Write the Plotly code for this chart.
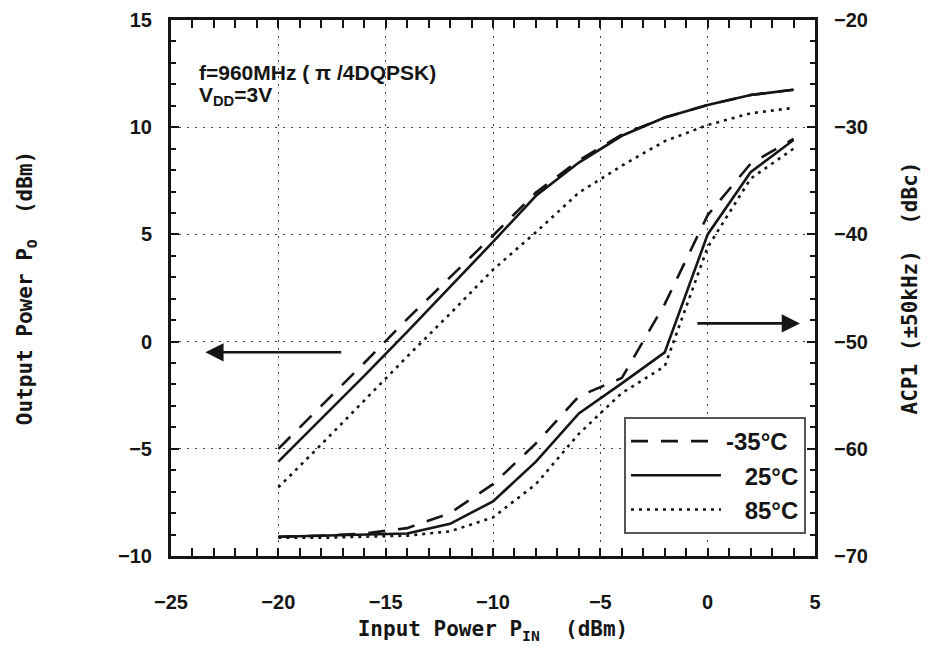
import plotly.graph_objects as go

# ---------------- data ----------------
PIN = [-20, -18, -16, -14, -12, -10, -8, -6, -4, -2, 0, 2, 4]

POUT_M35 = [-5.0, -3.0, -1.0, 1.05, 3.0, 4.95, 6.95, 8.45, 9.65, 10.45, 11.04, 11.5, 11.75]
POUT_25 = [-5.6, -3.6, -1.6, 0.45, 2.55, 4.65, 6.8, 8.35, 9.6, 10.45, 11.04, 11.5, 11.75]
POUT_85 = [-6.8, -4.8, -2.75, -0.7, 1.3, 3.35, 5.1, 6.95, 8.2, 9.35, 10.1, 10.65, 10.9]

ACPR_M35 = [-68.2, -68.1, -67.9, -67.4, -66.0, -63.3, -59.5, -55.1, -53.4, -46.5, -38.2, -33.4, -31.1]
ACPR_25 = [-68.2, -68.1, -68.0, -67.9, -67.0, -64.9, -61.2, -56.7, -53.9, -51.0, -40.0, -34.2, -31.2]
ACPR_85 = [-68.3, -68.3, -68.2, -68.1, -67.7, -66.4, -63.3, -58.6, -54.8, -52.3, -41.2, -34.8, -32.0]

LABELS = ["-35°C", "\u2002 25°C", "\u2002 85°C"]

X_TICKS = [-25, -20, -15, -10, -5, 0, 5]
Y1_TICKS = [-10, -5, 0, 5, 10, 15]
Y2_TICKS = [-70, -60, -50, -40, -30, -20]

# ---------------- styles ----------------
INK = "#151515"
DASHES = ["17px,13px", "solid", "3px,5px"]
LINE_W = 2.6
TICK_FONT = dict(family="Liberation Sans, Arial, sans-serif", size=20, color=INK, weight="bold")
TITLE_FONT = dict(family="DejaVu Sans Mono, monospace", size=21, color=INK, weight="bold")
NOTE_FONT = dict(family="Liberation Sans Narrow, Liberation Sans, sans-serif", size=21, color=INK, weight="bold")
LEG_FONT = dict(family="Liberation Sans Narrow, Liberation Sans, sans-serif", size=24, color=INK, weight="bold")

fig = go.Figure()

pout = [POUT_M35, POUT_25, POUT_85]
acpr = [ACPR_M35, ACPR_25, ACPR_85]
for i, lab in enumerate(LABELS):
    fig.add_trace(go.Scatter(
        x=PIN, y=pout[i], mode="lines", name=lab, legendgroup=lab,
        line=dict(color=INK, width=LINE_W, dash=DASHES[i]),
        yaxis="y"))
for i, lab in enumerate(LABELS):
    fig.add_trace(go.Scatter(
        x=PIN, y=acpr[i], mode="lines", name=lab, legendgroup=lab, showlegend=False,
        line=dict(color=INK, width=LINE_W, dash=DASHES[i]),
        yaxis="y2"))

# arrows pointing to the corresponding axis
fig.add_annotation(x=-23.4, y=-0.5, ax=-17.0, ay=-0.5, xref="x", yref="y", axref="x", ayref="y",
                   showarrow=True, arrowhead=2, arrowsize=1.4, arrowwidth=2.6, arrowcolor=INK, text="")
fig.add_annotation(x=4.3, y=-48.3, ax=-0.55, ay=-48.3, xref="x", yref="y2", axref="x", ayref="y2",
                   showarrow=True, arrowhead=2, arrowsize=1.4, arrowwidth=2.6, arrowcolor=INK, text="")

# condition notes
fig.add_annotation(x=-23.8, y=12.56, xref="x", yref="y", xanchor="left", yanchor="middle",
                   showarrow=False, text="f=960MHz ( π /4DQPSK)", font=NOTE_FONT)
fig.add_annotation(x=-23.8, y=11.45, xref="x", yref="y", xanchor="left", yanchor="middle",
                   showarrow=False, text="V<sub>DD</sub>=3V", font=NOTE_FONT)

grid = dict(showgrid=True, gridcolor="#444", gridwidth=1.4, griddash="2px,6px", zeroline=False)

fig.update_layout(
    width=929, height=654, autosize=False,
    margin=dict(l=163, r=122, t=12, b=106),
    paper_bgcolor="white", plot_bgcolor="white",
    showlegend=True,
    legend=dict(x=0.986, y=0.041, xanchor="right", yanchor="bottom",
                bgcolor="white", bordercolor="#555", borderwidth=2,
                font=LEG_FONT, itemwidth=90, tracegroupgap=2,
                traceorder="normal"),
    xaxis=dict(range=[-25, 5], tickvals=X_TICKS, ticks="inside", ticklen=8, tickwidth=2,
               tickcolor=INK, showline=True, linecolor=INK, linewidth=3, mirror="allticks",
               tickfont=TICK_FONT, ticklabelstandoff=26, automargin=False,
               minor=dict(dtick=1, ticks="inside", ticklen=5, tickwidth=1.5, tickcolor=INK, showgrid=False),
               title=dict(text="Input Power P<sub>IN</sub>  (dBm)", font=TITLE_FONT, standoff=10),
               **grid),
    yaxis=dict(range=[-10, 15], tickvals=Y1_TICKS, ticks="inside", ticklen=8, tickwidth=2,
               tickcolor=INK, showline=True, linecolor=INK, linewidth=3, automargin=False,
               tickfont=TICK_FONT, ticklabelstandoff=12,
               minor=dict(dtick=1, ticks="inside", ticklen=5, tickwidth=1.5, tickcolor=INK, showgrid=False),
               title=dict(text="Output Power P<sub>O</sub>  (dBm)", font=TITLE_FONT, standoff=80),
               **grid),
    yaxis2=dict(range=[-70, -20], tickvals=Y2_TICKS, overlaying="y", side="right",
                ticks="inside", ticklen=8, tickwidth=2, tickcolor=INK, automargin=False,
                showline=True, linecolor=INK, linewidth=3, showgrid=False, zeroline=False,
                tickfont=TICK_FONT, ticklabelstandoff=12,
                minor=dict(dtick=2, ticks="inside", ticklen=5, tickwidth=1.5, tickcolor=INK, showgrid=False),
                title=dict(text="ACP1 (±50kHz)  (dBc)", font=TITLE_FONT, standoff=36)),
)

fig.write_html("out.html")
